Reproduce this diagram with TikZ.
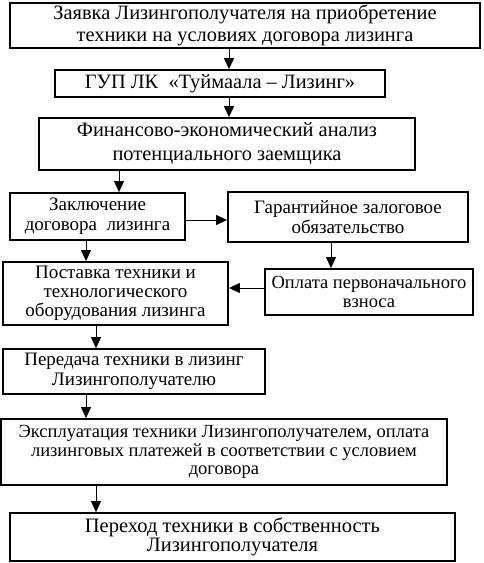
\documentclass[tikz,border=0pt]{standalone}
\usepackage{fontspec}
\setmainfont{Liberation Serif}
\usetikzlibrary{arrows.meta}
\tikzset{
  ar/.style={-{Triangle[length=11pt,width=10pt]},line width=1pt,black},
  blk/.style={draw,line width=1.8pt,align=center,inner sep=0pt,
    font=\fontsize{19}{20}\selectfont},
  sm/.style={font=\fontsize{18.5}{18.5}\selectfont}
}
\begin{document}
\begin{tikzpicture}[x=1pt,y=-1pt]
\useasboundingbox (0,0) rectangle (484,563);
\node[blk,minimum width=470pt,minimum height=45pt,font=\fontsize{20.4}{22.5}\selectfont] (zay) at (245,25.5)
  {Заявка Лизингополучателя на приобретение\\техники на условиях договора лизинга};
\node[blk,minimum width=330pt,minimum height=27pt,font=\fontsize{20.4}{20}\selectfont] (gup) at (220,83.5)
  {ГУП ЛК \ «Туймаала – Лизинг»};
\node[blk,minimum width=376pt,minimum height=52pt,font=\fontsize{20.4}{24}\selectfont] (fin) at (227,144)
  {Финансово-экономический анализ\\потенциального заемщика};
\node[blk,minimum width=175pt,minimum height=47pt] (zakl) at (97.5,216.5)
  {Заключение\\договора \ лизинга};
\node[blk,minimum width=240pt,minimum height=50pt] (gar) at (348,217)
  {Гарантийное залоговое\\обязательство};
\node[blk,sm,minimum width=208pt,minimum height=46pt] (opl) at (369,292)
  {Оплата первоначального\\взноса};
\node[blk,minimum width=225pt,minimum height=63pt,font=\fontsize{19}{19}\selectfont] (post) at (115.5,293.5)
  {Поставка техники и\\технологического\\оборудования лизинга};
\node[blk,minimum width=262pt,minimum height=45pt] (per) at (134,371.5)
  {Передача техники в лизинг\\Лизингополучателю};
\node[blk,sm,minimum width=446pt,minimum height=66pt] (eks) at (224,452)
  {Эксплуатация техники Лизингополучателем, оплата\\лизинговых платежей в соответствии с условием\\договора};
\node[blk,minimum width=445pt,minimum height=48pt,font=\fontsize{20.5}{18.5}\selectfont] (sob) at (232.5,537)
  {Переход техники в собственность\\Лизингополучателя};

% arrows
\draw[ar] ([xshift=9pt]gup.north |- zay.south) -- ([xshift=9pt]gup.north);
\draw[ar] ([xshift=9pt]gup.south) -- ([xshift=9pt]gup.south |- fin.north);
\draw[ar] ([xshift=21.5pt]zakl.north |- fin.south) -- ([xshift=21.5pt]zakl.north);
\draw[ar] ([yshift=-3.5pt]zakl.east) -- ([yshift=-3.5pt]zakl.east -| gar.west);
\draw[ar] ([xshift=-38pt]opl.north |- gar.south) -- ([xshift=-38pt]opl.north);
\draw[ar] ([yshift=4pt]opl.west) -- ([yshift=4pt]opl.west -| post.east);
\draw[ar] ([xshift=-11.5pt]zakl.south) -- ([xshift=-11.5pt]zakl.south |- post.north);
\draw[ar] ([xshift=-38pt]per.north |- post.south) -- ([xshift=-38pt]per.north);
\draw[ar] ([xshift=-48pt]per.south) -- ([xshift=-48pt]per.south |- eks.north);
\draw[ar] ([xshift=-128pt]eks.south) -- ([xshift=-128pt]eks.south |- sob.north);
\end{tikzpicture}
\end{document}
